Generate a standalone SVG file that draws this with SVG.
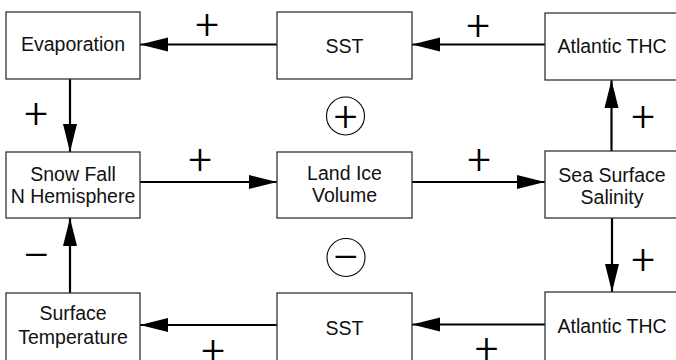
<svg xmlns="http://www.w3.org/2000/svg" width="676" height="360" viewBox="0 0 676 360">
<defs>
<style>
.box{fill:#fff;stroke:#333;stroke-width:1.3}
.lbl{font-family:"Liberation Sans",Arial,sans-serif;font-size:19.5px;fill:#111;text-anchor:middle}
.sign{font-family:Roboto,"Liberation Sans",sans-serif;font-weight:300;font-size:42px;fill:#000;text-anchor:middle}
.con{stroke:#000;stroke-width:2.2;fill:none;marker-end:url(#ah)}
.ring{fill:none;stroke:#000;stroke-width:1.1}
</style>
<marker id="ah" markerUnits="userSpaceOnUse" markerWidth="28" markerHeight="14" refX="28" refY="7" orient="auto" overflow="visible">
<path d="M0,0 L28,7 L0,14 Z" fill="#000"/>
</marker>
</defs>
<rect width="676" height="360" fill="#fff"/>
<g id="connectors">
<line class="con" x1="277" y1="44.5" x2="140" y2="44.5"/>
<line class="con" x1="545" y1="44.5" x2="412" y2="44.5"/>
<line class="con" x1="70" y1="79" x2="70" y2="152"/>
<line class="con" x1="140" y1="182" x2="277" y2="182"/>
<line class="con" x1="412" y1="182" x2="545" y2="182"/>
<line class="con" x1="611.5" y1="151" x2="611.5" y2="80"/>
<line class="con" x1="612" y1="218" x2="612" y2="292"/>
<line class="con" x1="545" y1="324.5" x2="412" y2="324.5"/>
<line class="con" x1="277" y1="325" x2="140" y2="325"/>
<line class="con" x1="70" y1="293" x2="70" y2="218"/>
</g>
<g id="signs">
<text class="sign" x="207" y="38.5">+</text>
<text class="sign" x="478" y="40">+</text>
<text class="sign" x="36" y="127.5">+</text>
<text class="sign" x="200" y="174">+</text>
<text class="sign" x="479" y="173.5">+</text>
<text class="sign" x="643" y="130.5">+</text>
<text class="sign" x="643" y="274">+</text>
<text class="sign" x="36.5" y="270">–</text>
<text class="sign" x="213" y="364.5">+</text>
<text class="sign" x="486.5" y="363">+</text>
</g>
<g id="loop-positive">
<circle class="ring" cx="345.5" cy="116" r="19"/>
<text class="sign" x="345.5" y="130.5">+</text>
</g>
<g id="loop-negative">
<circle class="ring" cx="346" cy="257.5" r="19"/>
<text class="sign" x="346" y="271.5">–</text>
</g>
<g id="evaporation">
<rect class="box" x="6" y="12" width="134" height="67"/>
<text class="lbl" x="73" y="51">Evaporation</text>
</g>
<g id="sst-top">
<rect class="box" x="277" y="12" width="135" height="67"/>
<text class="lbl" x="344.5" y="52.5">SST</text>
</g>
<g id="atlantic-thc-top">
<rect class="box" x="545" y="13" width="135" height="67"/>
<text class="lbl" x="612" y="53">Atlantic THC</text>
</g>
<g id="snow-fall">
<rect class="box" x="6" y="152" width="134" height="66"/>
<text class="lbl" x="73" y="181">Snow Fall</text>
<text class="lbl" x="73" y="203">N Hemisphere</text>
</g>
<g id="land-ice">
<rect class="box" x="277" y="152" width="135" height="66"/>
<text class="lbl" x="344.5" y="179.5">Land Ice</text>
<text class="lbl" x="344.5" y="202">Volume</text>
</g>
<g id="sea-surface-salinity">
<rect class="box" x="545" y="151" width="135" height="67"/>
<text class="lbl" x="612" y="181.5">Sea Surface</text>
<text class="lbl" x="612" y="203.5">Salinity</text>
</g>
<g id="surface-temperature">
<rect class="box" x="6" y="293" width="134" height="70"/>
<text class="lbl" x="73" y="319.5">Surface</text>
<text class="lbl" x="73" y="344">Temperature</text>
</g>
<g id="sst-bottom">
<rect class="box" x="277" y="293" width="135" height="70"/>
<text class="lbl" x="344.5" y="335">SST</text>
</g>
<g id="atlantic-thc-bottom">
<rect class="box" x="545" y="292" width="135" height="71"/>
<text class="lbl" x="612" y="332.5">Atlantic THC</text>
</g>
</svg>
